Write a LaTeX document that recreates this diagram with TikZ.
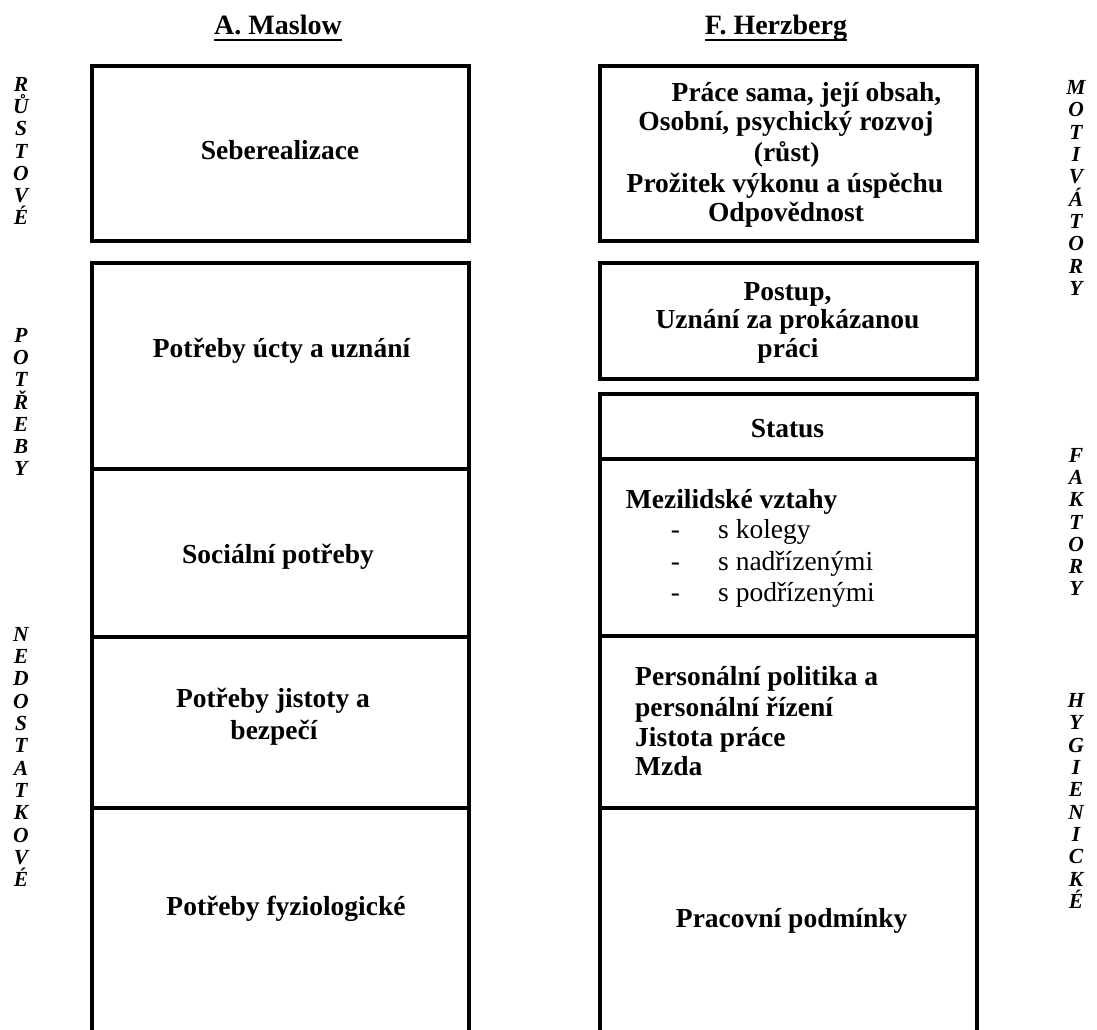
\documentclass[tikz,border=0pt]{standalone}
\usepackage{fontspec}
\setmainfont{Liberation Serif}
\newcommand\bodyfnt{\fontsize{27.5}{30}\selectfont}
\newcommand\sidefnt{\fontsize{21.5}{22.3}\selectfont\bfseries\itshape}
\tikzset{
  frame/.style={line width=4pt, draw=black},
  cell/.style={frame, rectangle, inner sep=0pt, outer sep=0pt, minimum width=377pt},
  opencell/.style={rectangle, draw=none, inner sep=0pt, outer sep=0pt, minimum width=377pt},
  txt/.style={font=\bodyfnt\bfseries, anchor=base, inner sep=0pt},
  txtl/.style={font=\bodyfnt\bfseries, anchor=base west, inner sep=0pt},
  itm/.style={font=\bodyfnt, anchor=base west, inner sep=0pt},
  dsh/.style={font=\bodyfnt, anchor=base, inner sep=0pt},
  side/.style={font=\sidefnt, align=center, inner sep=0pt, anchor=center},
  head/.style={font=\fontsize{28}{30}\selectfont\bfseries, anchor=base, inner sep=0pt}
}
\begin{document}
\begin{tikzpicture}[x=1pt,y=-1pt]
\useasboundingbox[fill=white] (0,0) rectangle (1097,1030);

% headers
\node[head] (hA) at (278,35) {A. Maslow};
\node[head] (hF) at (776,35) {F. Herzberg};
\draw[line width=2.5pt] ([yshift=-5pt]hA.base west) -- ([yshift=-5pt]hA.base east);
\draw[line width=2.5pt] ([yshift=-5pt]hF.base west) -- ([yshift=-5pt]hF.base east);

% left column (Maslow)
\node[cell, minimum height=175pt] (L1) at (280.5,153.5) {};
\node[cell, minimum height=206pt] (L2) at (280.5,366) {};
\node[cell, minimum height=168pt] (L3) at (280.5,553) {};
\node[cell, minimum height=171pt] (L4) at (280.5,722.5) {};
\node[opencell, minimum height=226pt] (L5) at (280.5,921) {};
\draw[frame] (L5.south west) -- (L5.north west) -- (L5.north east) -- (L5.south east);

\node[txt] (tL1) at (280,159) {Seberealizace};
\node[txt] (tL2) at (281.5,357) {Potřeby úcty a uznání};
\node[txt] (tL3) at (278,563) {Sociální potřeby};
\node[txt] (tL4a) at (273,707) {Potřeby jistoty a};
\node[txt] (tL4b) at (274,739) {bezpečí};
\node[txt] (tL5) at (286,915) {Potřeby fyziologické};

% right column (Herzberg)
\node[cell, minimum height=175pt] (R1) at (788.5,153.5) {};
\node[cell, minimum height=116pt] (R2) at (788.5,321) {};
\node[cell, minimum height=65pt] (R3) at (788.5,426.5) {};
\node[cell, minimum height=177pt] (R4) at (788.5,547.5) {};
\node[cell, minimum height=172pt] (R5) at (788.5,722) {};
\node[opencell, minimum height=226pt] (R6) at (788.5,921) {};
\draw[frame] (R6.south west) -- (R6.north west) -- (R6.north east) -- (R6.south east);

\node[txt] (tR1a) at (806.5,102) {Práce sama, její obsah,};
\node[txt] (tR1b) at (786,131) {Osobní, psychický rozvoj};
\node[txt] (tR1c) at (786.7,161) {(růst)};
\node[txt] (tR1d) at (785,192) {Prožitek výkonu a úspěchu};
\node[txt] (tR1e) at (786,221) {Odpovědnost};

\node[txt] (tR2a) at (787.5,300) {Postup,};
\node[txt] (tR2b) at (787.5,328) {Uznání za prokázanou};
\node[txt] (tR2c) at (788,357) {práci};

\node[txt] (tR3) at (787.5,437) {Status};

\node[txtl] (tR4) at (625.7,508) {Mezilidské vztahy};
\node[dsh] (d1) at (675.5,538) {-};
\node[dsh] (d2) at (675.5,570) {-};
\node[dsh] (d3) at (675.5,601) {-};
\node[itm] (i1) at (718,538) {s kolegy};
\node[itm] (i2) at (718,570) {s nadřízenými};
\node[itm] (i3) at (718,601) {s podřízenými};

\node[txtl] (tR5a) at (635,685) {Personální politika a};
\node[txtl] (tR5b) at (635,716) {personální řízení};
\node[txtl] (tR5c) at (635,746) {Jistota práce};
\node[txtl] (tR5d) at (635,775) {Mzda};

\node[txt] (tR6) at (791.7,927) {Pracovní podmínky};

% side labels
\node[side] (sL1) at (21,151) {R\\Ů\\S\\T\\O\\V\\É};
\node[side] (sL2) at (21,402) {P\\O\\T\\Ř\\E\\B\\Y};
\node[side] (sL3) at (21,757) {N\\E\\D\\O\\S\\T\\A\\T\\K\\O\\V\\É};
\node[side] (sR1) at (1076,188) {M\\O\\T\\I\\V\\Á\\T\\O\\R\\Y};
\node[side] (sR2) at (1076,522) {F\\A\\K\\T\\O\\R\\Y};
\node[side] (sR3) at (1076,801) {H\\Y\\G\\I\\E\\N\\I\\C\\K\\É};
\end{tikzpicture}
\end{document}
